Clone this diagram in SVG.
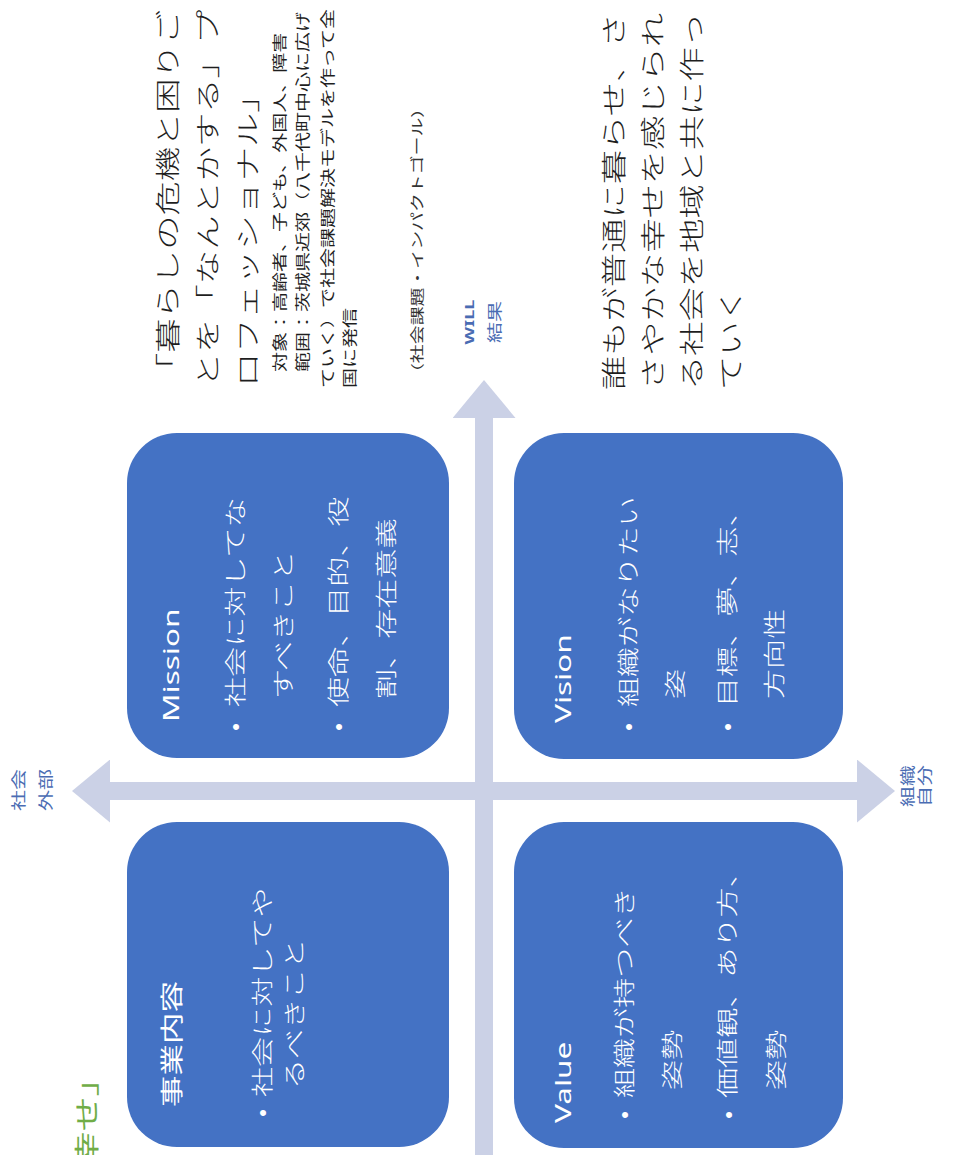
<svg xmlns="http://www.w3.org/2000/svg" width="957" height="1155" viewBox="0 0 957 1155">
<style>
.box{fill:#4472C4}
.t{font-family:"Noto Sans","Noto Sans CJK JP",sans-serif}
.j{font-family:"Noto Sans CJK JP","Noto Sans",sans-serif}
.title{fill:#ffffff;font-size:22.5px}
.body{fill:#ffffff;font-size:21.5px;font-weight:300}
.bul{fill:#ffffff;font-family:"Liberation Sans",sans-serif;font-size:22px;text-anchor:middle}
.big{fill:#1e1e1e;font-size:24.5px;font-weight:300}
.small{fill:#1e1e1e;font-size:14.3px}
.note{fill:#333333;font-size:13.5px}
.ax{fill:#4a6cb3;font-size:15px;text-anchor:middle}
.will{fill:#4a6cb3;font-size:13px;font-weight:bold;text-anchor:middle}
.axis{stroke:#CBD1E6;stroke-width:18;fill:none}
.green{fill:#70AD47;font-size:25px;text-anchor:end}
</style>
<defs>
<marker id="ah" viewBox="0 0 38 63" refX="0" refY="31.5" markerWidth="38" markerHeight="63" markerUnits="userSpaceOnUse" orient="auto-start-reverse"><path d="M0,0 L38,31.5 L0,63 Z" fill="#CBD1E6"/></marker>
</defs>
<rect x="0" y="0" width="957" height="1155" fill="#ffffff"/>
<g transform="translate(0,1155) rotate(-90)">
  <g id="connectors">
    <line class="axis" x1="-10" y1="484" x2="737" y2="484" marker-end="url(#ah)"/>
    <line class="axis" x1="364" y1="110" x2="364" y2="857" marker-start="url(#ah)" marker-end="url(#ah)"/>
  </g>

  <g id="axis-label-social">
    <g transform="scale(1.4,1)">
      <text class="j ax" x="260.71" y="23.7">社会</text>
      <text class="j ax" x="260.71" y="50.7">外部</text>
    </g>
  </g>
  <g id="axis-label-org">
    <g transform="scale(1.4,1)">
      <text class="j ax" x="263.57" y="912.7">組織</text>
      <text class="j ax" x="263.57" y="929.7">自分</text>
    </g>
  </g>
  <g id="axis-label-will">
    <g transform="scale(1.4,1)">
      <text class="t will" x="595" y="474">WILL</text>
      <text class="j ax" x="595" y="499.7">結果</text>
    </g>
  </g>

  <g id="title-happiness">
    <g transform="scale(1.4,1)">
      <text class="j green" x="66.79" y="96.5">「幸せ」</text>
    </g>
  </g>

  <g id="node-business">
    <rect class="box" x="8" y="127" width="325" height="322" rx="50"/>
    <g transform="scale(1.4,1)">
      <text class="j title" x="34.29" y="180.4">事業内容</text>
      <text class="j body" x="41.43" y="270.2">社会に対してや</text>
      <text class="j body" x="47.14" y="302.2">るべきこと</text>
    </g>
    <text class="bul" x="42" y="269.9">•</text>
  </g>

  <g id="node-mission">
    <rect class="box" x="397" y="127" width="325" height="322" rx="50"/>
    <g transform="scale(1.4,1)">
      <text class="t title" x="309.29" y="179">Mission</text>
      <text class="j body" x="320" y="243.2">社会に対してな</text>
      <text class="j body" x="325.71" y="291.2">すべきこと</text>
      <text class="j body" x="320" y="346.2">使命、目的、役</text>
      <text class="j body" x="325.71" y="394.2">割、存在意義</text>
    </g>
    <text class="bul" x="428" y="242.9">•</text>
    <text class="bul" x="428" y="345.9">•</text>
  </g>

  <g id="node-value">
    <rect class="box" x="7" y="514" width="326" height="329" rx="50"/>
    <g transform="scale(1.4,1)">
      <text class="t title" x="22.86" y="571">Value</text>
      <text class="j body" x="40.71" y="632.2">組織が持つべき</text>
      <text class="j body" x="46.43" y="680.2">姿勢</text>
      <text class="j body" x="40.71" y="735.2">価値観、あり方、</text>
      <text class="j body" x="46.43" y="784.2">姿勢</text>
    </g>
    <text class="bul" x="40" y="631.9">•</text>
    <text class="bul" x="40" y="735.9">•</text>
  </g>

  <g id="node-vision">
    <rect class="box" x="396" y="514" width="326" height="329" rx="50"/>
    <g transform="scale(1.4,1)">
      <text class="t title" x="308.57" y="571">Vision</text>
      <text class="j body" x="320" y="636.2">組織がなりたい</text>
      <text class="j body" x="325.71" y="683.2">姿</text>
      <text class="j body" x="320" y="735.2">目標、夢、志、</text>
      <text class="j body" x="325.71" y="782.2">方向性</text>
    </g>
    <text class="bul" x="428" y="635.9">•</text>
    <text class="bul" x="428" y="734.9">•</text>
  </g>

  <g id="text-mission-statement">
    <g transform="scale(1.4,1)">
      <text class="j big" x="548.57" y="177.3">「暮らしの危機と困りご</text>
      <text class="j big" x="548.57" y="217.3">とを「なんとかする」プ</text>
      <text class="j big" x="548.57" y="257.3">ロフェッショナル」</text>
      <text class="j small" x="559.29" y="285.4">対象：高齢者、子ども、外国人、障害</text>
      <text class="j small" x="559.29" y="308.4">範囲：茨城県近郊（八千代町中心に広げ</text>
      <text class="j small" x="547.86" y="333.4">ていく）で社会課題解決モデルを作って全</text>
      <text class="j small" x="547.86" y="355.4">国に発信</text>
    </g>
  </g>

  <g id="text-impact-goal">
    <g transform="scale(1.4,1)">
      <text class="j note" x="552.14" y="422">（社会課題・インパクトゴール）</text>
    </g>
  </g>

  <g id="text-vision-statement">
    <g transform="scale(1.4,1)">
      <text class="j big" x="546.43" y="623.3">誰もが普通に暮らせ、さ</text>
      <text class="j big" x="546.43" y="662.3">さやかな幸せを感じられ</text>
      <text class="j big" x="546.43" y="701.3">る社会を地域と共に作っ</text>
      <text class="j big" x="546.43" y="740.3">ていく</text>
    </g>
  </g>
</g>
</svg>
